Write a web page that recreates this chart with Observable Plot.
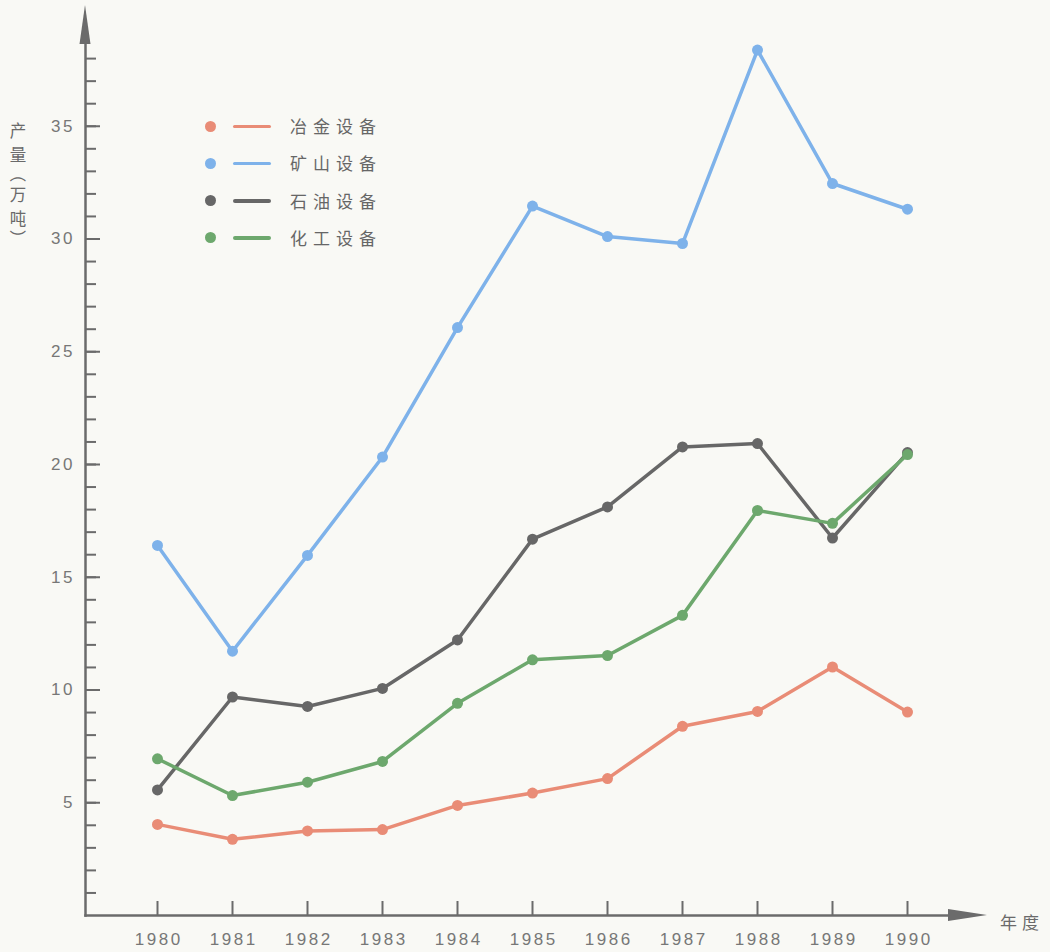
<!DOCTYPE html>
<html>
<head>
<meta charset="utf-8">
<script src="https://cdn.jsdelivr.net/npm/d3@7"></script>
<script src="https://cdn.jsdelivr.net/npm/@observablehq/plot@0.6"></script>
<style>
  body { margin: 0; background: #f9f9f5; }
  #wrap { position: relative; width: 1050px; height: 952px; overflow: hidden; }
  #wrap svg { position: absolute; left: 0; top: 0; }
  g[aria-label$="tick label"] text { letter-spacing: 2.5px; }
  .cjk { font-family: "Noto Sans CJK SC", sans-serif; color: #6a6a6a; font-size: 17px; position: absolute; }
  #ytitle { left: 7px; top: 118px; width: 22px; display: flex; flex-direction: column; align-items: center; font-size: 16.5px; }
  #ytitle span { display: block; height: 24px; line-height: 24px; text-align: center; }
  #ytitle span.p { height: 16px; line-height: 16px; transform: rotate(90deg); overflow: visible; }
  #xtitle { left: 1000px; top: 909px; letter-spacing: 5px; }
  #legend { position: absolute; left: 200px; top: 108px; }
  .row { position: relative; height: 37.3px; }
  .dot { position: absolute; left: 5px; top: 12.5px; width: 11px; height: 11px; border-radius: 50%; }
  .ln { position: absolute; left: 33px; top: 16.5px; width: 38px; height: 3.5px; border-radius: 2px; }
  .lab { position: absolute; left: 90px; top: 5px; font-family: "Noto Sans CJK SC", sans-serif; font-size: 17px; letter-spacing: 6px; color: #666; line-height: 26px; white-space: nowrap; }
</style>
</head>
<body>
<div id="wrap"></div>
<script>
// ---- data ----
const years = [1980, 1981, 1982, 1983, 1984, 1985, 1986, 1987, 1988, 1989, 1990];
const metallurgy = [4.04, 3.38, 3.75, 3.81, 4.88, 5.43, 6.07, 8.39, 9.05, 11.02, 9.02];
const mining     = [16.41, 11.72, 15.97, 20.33, 26.07, 31.46, 30.11, 29.80, 38.38, 32.46, 31.32];
const petroleum  = [5.57, 9.69, 9.27, 10.07, 12.22, 16.69, 18.12, 20.78, 20.93, 16.74, 20.53];
const chemical   = [6.95, 5.32, 5.91, 6.83, 9.41, 11.34, 11.53, 13.31, 17.96, 17.39, 20.44];
const seriesNames = ["冶金设备", "矿山设备", "石油设备", "化工设备"];
const seriesColors = ["#e98c76", "#7eb2ea", "#676767", "#6da86d"];
const yLabelTicks = [5, 10, 15, 20, 25, 30, 35];
const yMinorTicks = d3.range(1, 39);
const yTitle = "产量（万吨）";
const xTitle = "年度";

// ---- build table ----
const seriesValues = [metallurgy, mining, petroleum, chemical];
const drawOrder = [1, 2, 3, 0];
const data = drawOrder.flatMap(s => years.map((yr, i) => ({series: seriesNames[s], year: yr, value: seriesValues[s][i]})));

const W = 1050, H = 952;
const mL = 85, mR = 100, mT = 42, mB = 37;
const plotW = W - mL - mR, plotH = H - mT - mB;
const axisColor = "#6b6b6b";

const arrowHeads = (index, scales, values, dims) => {
  const g = d3.create("svg:g").attr("fill", axisColor);
  const x0 = dims.marginLeft, yt = dims.marginTop;
  const yb = dims.height - dims.marginBottom, xr = dims.width - dims.marginRight;
  g.append("path").attr("d", `M${x0 - 5.5},${yt + 2} L${x0},${yt - 37} L${x0 + 5.5},${yt + 2} Z`);
  g.append("path").attr("d", `M${xr - 2},${yb - 6} L${xr + 37},${yb} L${xr - 2},${yb + 6} Z`);
  return g.node();
};

const chart = Plot.plot({
  width: W, height: H,
  marginLeft: mL, marginRight: mR, marginTop: mT, marginBottom: mB,
  style: {background: "transparent", fontFamily: "'Liberation Sans', sans-serif", color: "#707070"},
  x: {domain: [1980, 1990], range: [157, 907], label: null},
  y: {domain: [0, 40], range: [915, 13], label: null},
  color: {domain: seriesNames, range: seriesColors},
  marks: [
    Plot.frame({anchor: "left", stroke: axisColor, strokeWidth: 2.5}),
    Plot.frame({anchor: "bottom", stroke: axisColor, strokeWidth: 2.5}),
    arrowHeads,
    Plot.ruleY(yMinorTicks, {insetRight: plotW - 11, stroke: axisColor, strokeWidth: 2}),
    Plot.ruleY(yLabelTicks, {insetRight: plotW - 15, stroke: axisColor, strokeWidth: 2}),
    Plot.ruleX(years, {insetTop: plotH - 14, stroke: axisColor, strokeWidth: 2}),
    Plot.axisY({ticks: yLabelTicks, tickSize: 0, tickPadding: 10.5, fontSize: 17, fill: "#777", tickFormat: d => String(d)}),
    Plot.axisX({ticks: years, tickSize: 0, tickPadding: 17, fontSize: 17, fill: "#777", dx: 1.2, tickFormat: d => String(d)}),
    Plot.line(data, {x: "year", y: "value", z: "series", stroke: "series", strokeWidth: 3.5}),
    Plot.dot(data, {x: "year", y: "value", fill: "series", r: 5.5})
  ]
});

const wrap = document.getElementById("wrap");
wrap.appendChild(chart);

// titles
const yt = document.createElement("div");
yt.id = "ytitle"; yt.className = "cjk";
Array.from(yTitle).forEach(ch => {
  const s = document.createElement("span");
  s.textContent = ch;
  if (ch === "（" || ch === "）") s.className = "p";
  yt.appendChild(s);
});
wrap.appendChild(yt);
const xt = document.createElement("div");
xt.id = "xtitle"; xt.className = "cjk"; xt.textContent = xTitle;
wrap.appendChild(xt);

// legend
const legend = document.createElement("div");
legend.id = "legend";
seriesNames.forEach((name, i) => {
  const row = document.createElement("div"); row.className = "row";
  const dot = document.createElement("span"); dot.className = "dot"; dot.style.background = seriesColors[i];
  const ln = document.createElement("span"); ln.className = "ln"; ln.style.background = seriesColors[i];
  const lab = document.createElement("span"); lab.className = "lab"; lab.textContent = name;
  row.append(dot, ln, lab);
  legend.appendChild(row);
});
wrap.appendChild(legend);
</script>
</body>
</html>
